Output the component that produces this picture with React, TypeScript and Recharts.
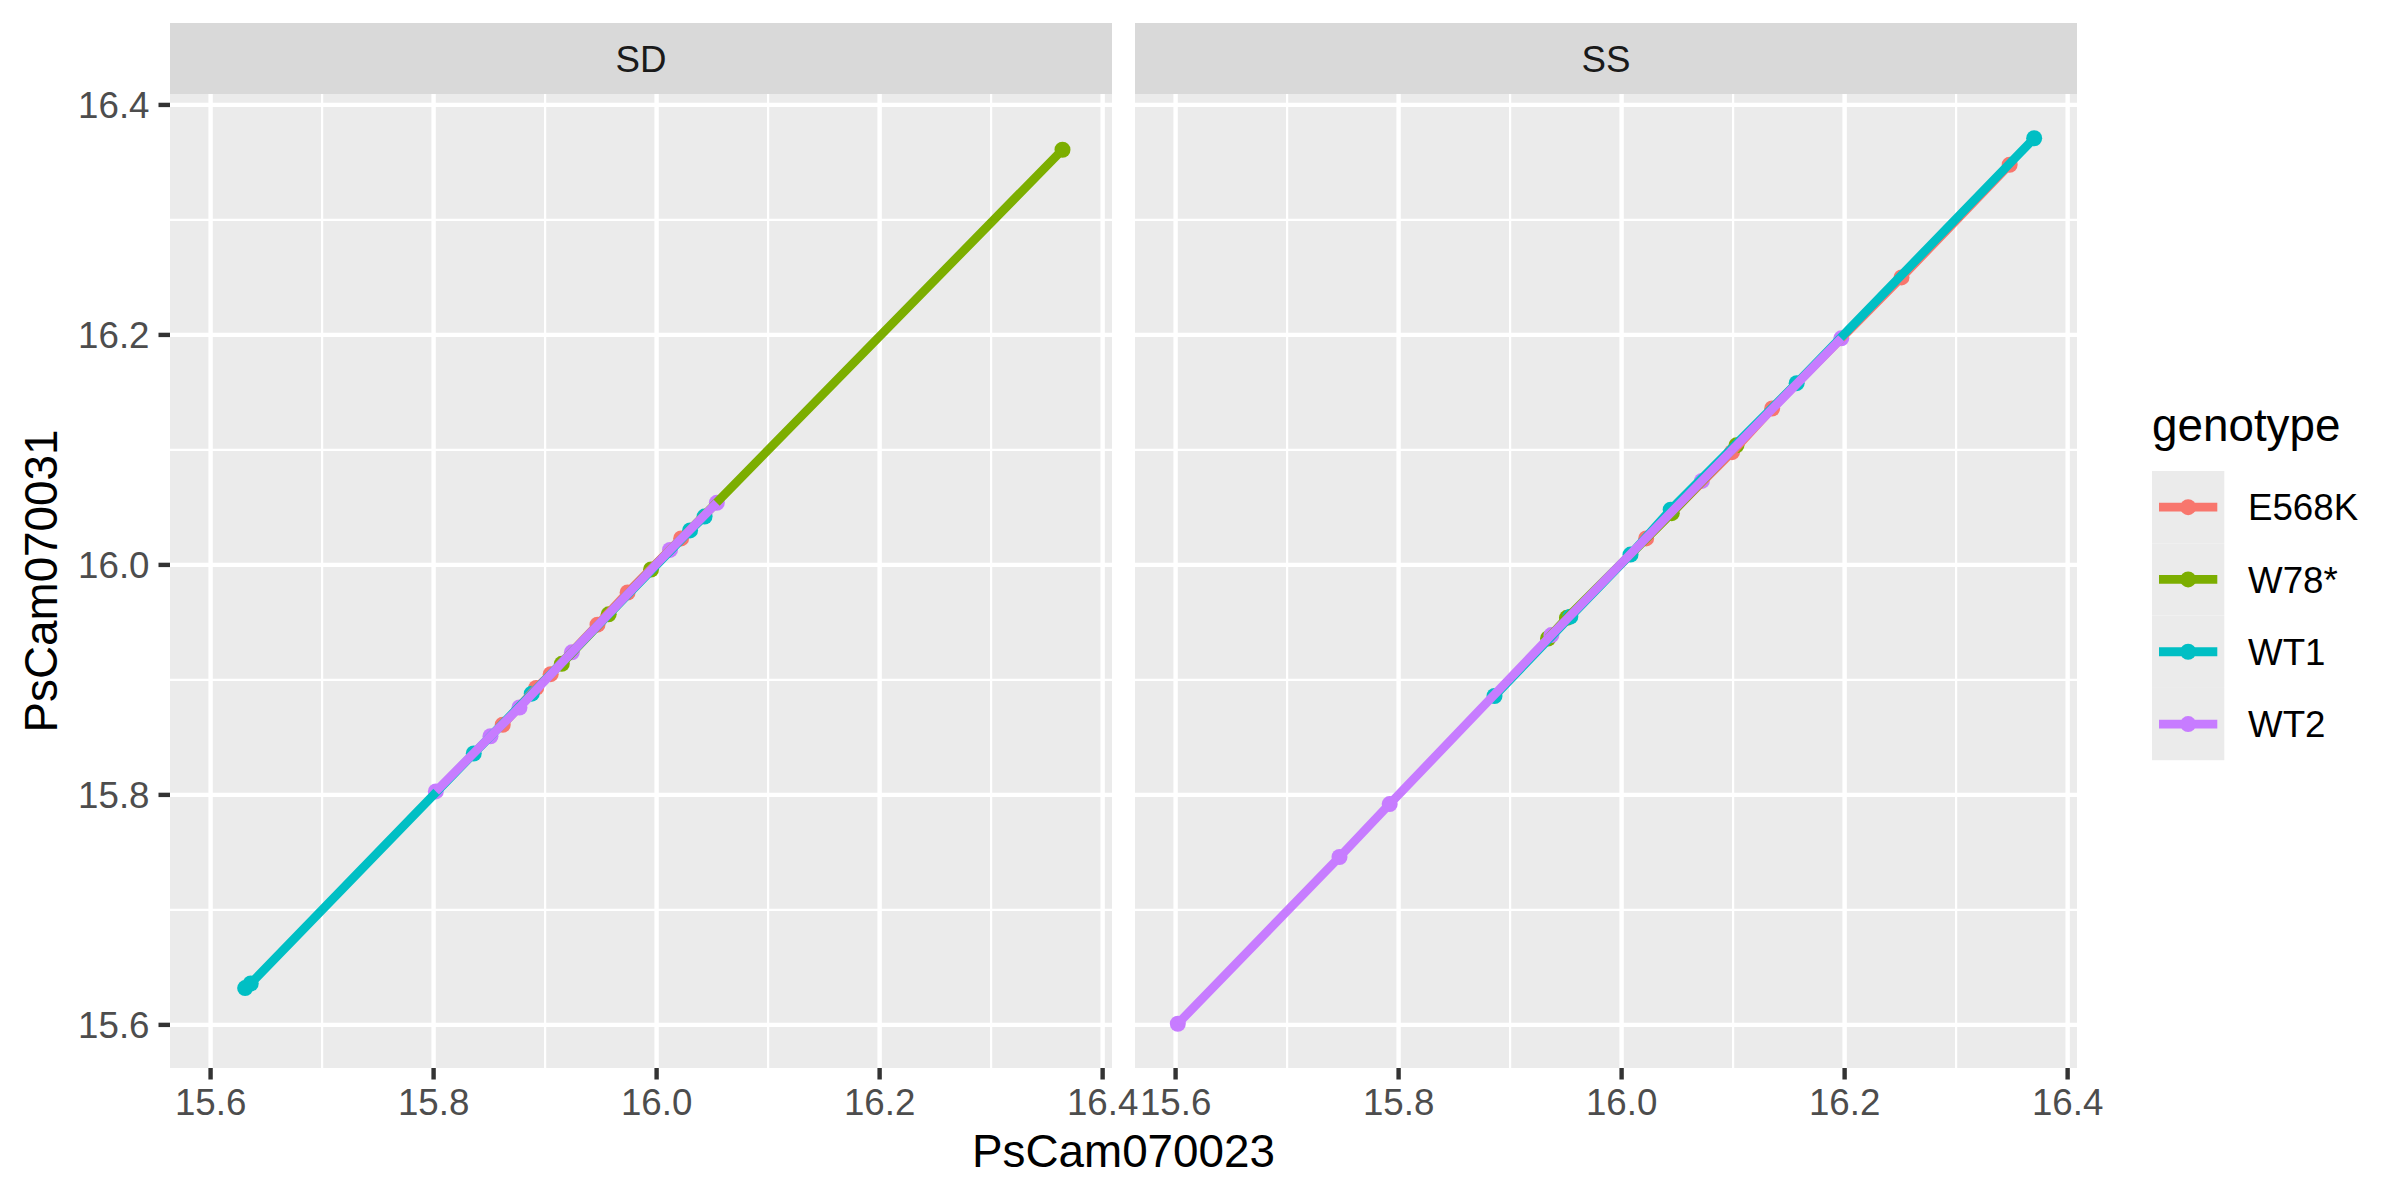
import React from 'react';
import { ComposedChart, Line, Scatter, XAxis, YAxis, CartesianGrid } from 'recharts';

// ---- data (x = PsCam070023, y = PsCam070031) ----
const GENOTYPES = ['E568K', 'W78*', 'WT1', 'WT2'];
const COLORS = ['#F8766D', '#7CAE00', '#00BFC4', '#C77CFF'];
const FACETS = ['SD', 'SS'];

const SD_E568K = [[15.862, 15.861], [15.892, 15.893], [15.905, 15.905], [15.947, 15.948], [15.974, 15.976], [16.022, 16.023]];
const SD_W78 = [[15.915, 15.914], [15.957, 15.957], [15.995, 15.996], [16.364, 16.361]];
const SD_WT1 = [[15.631, 15.632], [15.636, 15.636], [15.836, 15.836], [15.888, 15.888], [16.03, 16.03], [16.043, 16.042]];
const SD_WT2 = [[15.802, 15.803], [15.851, 15.851], [15.877, 15.876], [15.924, 15.924], [16.012, 16.013], [16.054, 16.054]];

const SS_E568K = [[16.022, 16.023], [16.099, 16.098], [16.135, 16.136], [16.251, 16.25], [16.348, 16.348]];
const SS_W78 = [[15.934, 15.936], [15.951, 15.954], [16.045, 16.045], [16.103, 16.104]];
const SS_WT1 = [[15.886, 15.886], [15.954, 15.955], [16.008, 16.009], [16.044, 16.048], [16.157, 16.158], [16.37, 16.371]];
const SS_WT2 = [[15.602, 15.601], [15.747, 15.746], [15.792, 15.792], [15.937, 15.939], [16.072, 16.073], [16.197, 16.197]];

const MAJOR_TICKS = [15.6, 15.8, 16.0, 16.2, 16.4];
const MINOR_TICKS = [15.7, 15.9, 16.1, 16.3];
const X_DOMAIN = [15.5636, 16.4084];
const Y_DOMAIN = [15.5625, 16.4095];

const X_TITLE = 'PsCam070023';
const Y_TITLE = 'PsCam070031';
const LEGEND_TITLE = 'genotype';

const SERIES = {
  SD: [SD_E568K, SD_W78, SD_WT1, SD_WT2],
  SS: [SS_E568K, SS_W78, SS_WT1, SS_WT2],
};

// ---- layout ----
const FONT = '"Liberation Sans", Arial, Helvetica, sans-serif';
const PANEL_TOP = 94;
const PANEL_BOTTOM = 1068;
const PANEL_H = PANEL_BOTTOM - PANEL_TOP;
const PANEL_W = 942;
const PANEL_LEFTS = [170, 1135];
const Y_AXIS_W = 170;
const X_AXIS_H = 70;
const STRIP_TOP = 23;
const LINE_W = 8.8;
const DOT_R = 8;

const toObjs = (arr: number[][]) => arr.map(([x, y]) => ({ x, y })).sort((a, b) => a.x - b.x);

function Facet({ name, index }: { name: string; index: number }) {
  const showY = index === 0;
  const left = showY ? 0 : PANEL_LEFTS[index];
  const width = showY ? PANEL_W + Y_AXIS_W : PANEL_W;
  const series = SERIES[name as 'SD' | 'SS'];
  return (
    <div style={{ position: 'absolute', left, top: PANEL_TOP }}>
      <ComposedChart width={width} height={PANEL_H + X_AXIS_H} margin={{ top: 0, right: 0, bottom: 0, left: 0 }}>
        <CartesianGrid
          fill="#EBEBEB"
          stroke="#FFFFFF"
          strokeWidth={2.2}
          horizontalValues={MINOR_TICKS}
          verticalValues={MINOR_TICKS}
          syncWithTicks={false}
        />
        <CartesianGrid
          stroke="#FFFFFF"
          strokeWidth={4.4}
          horizontalValues={MAJOR_TICKS}
          verticalValues={MAJOR_TICKS}
          syncWithTicks={false}
        />
        <XAxis
          type="number"
          dataKey="x"
          domain={X_DOMAIN}
          allowDataOverflow
          ticks={MAJOR_TICKS}
          interval={0}
          height={X_AXIS_H}
          axisLine={false}
          tickLine={{ stroke: '#333333', strokeWidth: 4.4 }}
          tickSize={11.5}
          tickMargin={9}
          tickFormatter={(v: number) => v.toFixed(1)}
          tick={{ fill: '#4D4D4D', fontSize: 36.7, fontFamily: FONT }}
        />
        <YAxis
          type="number"
          dataKey="y"
          domain={Y_DOMAIN}
          allowDataOverflow
          ticks={MAJOR_TICKS}
          interval={0}
          hide={!showY}
          width={showY ? Y_AXIS_W : 0}
          axisLine={false}
          tickLine={{ stroke: '#333333', strokeWidth: 4.4 }}
          tickSize={11.5}
          tickMargin={9}
          tickFormatter={(v: number) => v.toFixed(1)}
          tick={{ fill: '#4D4D4D', fontSize: 36.7, fontFamily: FONT }}
        />
        {series.map((arr, i) => (
          <Scatter
            key={`pts-${GENOTYPES[i]}`}
            name={`${GENOTYPES[i]} points`}
            data={toObjs(arr)}
            dataKey="y"
            fill={COLORS[i]}
            isAnimationActive={false}
            zIndex={300}
            shape={(p: any) => <circle cx={p.cx} cy={p.cy} r={DOT_R} fill={COLORS[i]} stroke="none" />}
          />
        ))}
        {series.map((arr, i) => (
          <Line
            key={`line-${GENOTYPES[i]}`}
            name={GENOTYPES[i]}
            data={toObjs(arr)}
            dataKey="y"
            type="linear"
            stroke={COLORS[i]}
            strokeWidth={LINE_W}
            strokeLinecap="butt"
            strokeLinejoin="round"
            isAnimationActive={false}
            zIndex={400}
            dot={false}
            activeDot={false}
          />
        ))}
      </ComposedChart>
    </div>
  );
}

export default function App() {
  const keyLeft = 2152;
  const keySize = 72.3;
  const keyTop = 471;
  return (
    <div style={{ position: 'absolute', left: 0, top: 0, width: 2400, height: 1200, background: '#FFFFFF', overflow: 'hidden' }}>
      <style>{`.recharts-surface{overflow:visible}`}</style>
      <svg width={2400} height={1200} style={{ position: 'absolute', left: 0, top: 0 }}>
        {FACETS.map((f, i) => (
          <g key={f}>
            <rect x={PANEL_LEFTS[i]} y={STRIP_TOP} width={PANEL_W} height={PANEL_TOP - STRIP_TOP} fill="#D9D9D9" />
            <text
              x={PANEL_LEFTS[i] + PANEL_W / 2}
              y={71.6}
              textAnchor="middle"
              fontFamily={FONT}
              fontSize={36.7}
              fill="#1A1A1A"
            >
              {f}
            </text>
          </g>
        ))}
        <text x={(PANEL_LEFTS[0] + PANEL_LEFTS[1] + PANEL_W) / 2} y={1167} textAnchor="middle" fontFamily={FONT} fontSize={45.8} fill="#000000">
          {X_TITLE}
        </text>
        <text
          x={57}
          y={(PANEL_TOP + PANEL_BOTTOM) / 2}
          textAnchor="middle"
          fontFamily={FONT}
          fontSize={45.8}
          fill="#000000"
          transform={`rotate(-90 57 ${(PANEL_TOP + PANEL_BOTTOM) / 2})`}
        >
          {Y_TITLE}
        </text>
        <text x={keyLeft} y={441} fontFamily={FONT} fontSize={45.8} fill="#000000">
          {LEGEND_TITLE}
        </text>
        {GENOTYPES.map((g, i) => {
          const cy = keyTop + keySize * i + keySize / 2;
          return (
            <g key={g}>
              <rect x={keyLeft} y={keyTop + keySize * i} width={keySize} height={keySize} fill="#EBEBEB" />
              <line x1={keyLeft + 7} x2={keyLeft + keySize - 7} y1={cy} y2={cy} stroke={COLORS[i]} strokeWidth={LINE_W} />
              <circle cx={keyLeft + keySize / 2} cy={cy} r={DOT_R} fill={COLORS[i]} />
              <text x={2248} y={cy + 13.1} fontFamily={FONT} fontSize={36.7} fill="#000000">
                {g}
              </text>
            </g>
          );
        })}
      </svg>
      {FACETS.map((f, i) => (
        <Facet key={f} name={f} index={i} />
      ))}
    </div>
  );
}
